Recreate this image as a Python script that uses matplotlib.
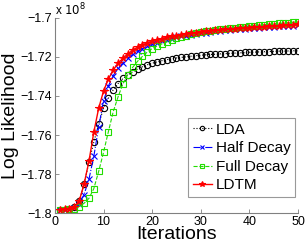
import matplotlib
matplotlib.use("Agg")
import matplotlib.pyplot as plt
from matplotlib.ticker import FuncFormatter

plt.rcParams['font.family'] = ['Liberation Sans', 'DejaVu Sans']

iterations = list(range(1, 51))

lda = [-1.7985, -1.7982, -1.7978, -1.7970, -1.7940, -1.7850, -1.7740, -1.7637, -1.7544, -1.7463,
       -1.7412, -1.7368, -1.7336, -1.7310, -1.7292, -1.7276, -1.7262, -1.7250, -1.7240, -1.7232,
       -1.7225, -1.7219, -1.7214, -1.7209, -1.7205, -1.7202, -1.7199, -1.7196, -1.7193, -1.7191,
       -1.7189, -1.7187, -1.7186, -1.7184, -1.7183, -1.7181, -1.7180, -1.7179, -1.7177, -1.7176,
       -1.7175, -1.7174, -1.7173, -1.7172, -1.7171, -1.7170, -1.7170, -1.7169, -1.7168, -1.7168]

half_decay = [-1.7986, -1.7983, -1.7980, -1.7973, -1.7952, -1.7905, -1.7827, -1.7710, -1.7560, -1.7425,
              -1.7349, -1.7295, -1.7258, -1.7229, -1.7205, -1.7186, -1.7170, -1.7157, -1.7146, -1.7136,
              -1.7127, -1.7119, -1.7112, -1.7106, -1.7100, -1.7095, -1.7090, -1.7086, -1.7082, -1.7078,
              -1.7075, -1.7072, -1.7069, -1.7066, -1.7064, -1.7061, -1.7059, -1.7057, -1.7055, -1.7053,
              -1.7051, -1.7049, -1.7048, -1.7046, -1.7045, -1.7043, -1.7042, -1.7040, -1.7039, -1.7037]

full_decay = [-1.7986, -1.7984, -1.7981, -1.7977, -1.7967, -1.7950, -1.7925, -1.7875, -1.7787, -1.7689,
              -1.7583, -1.7480, -1.7404, -1.7337, -1.7290, -1.7253, -1.7222, -1.7197, -1.7175, -1.7157,
              -1.7144, -1.7133, -1.7123, -1.7114, -1.7105, -1.7097, -1.7090, -1.7084, -1.7078, -1.7073,
              -1.7069, -1.7065, -1.7061, -1.7058, -1.7055, -1.7052, -1.7049, -1.7046, -1.7044, -1.7042,
              -1.7039, -1.7037, -1.7035, -1.7033, -1.7031, -1.7028, -1.7026, -1.7024, -1.7022, -1.7020]

ldtm = [-1.7985, -1.7981, -1.7977, -1.7968, -1.7938, -1.7852, -1.7735, -1.7586, -1.7463, -1.7375,
        -1.7313, -1.7267, -1.7232, -1.7207, -1.7185, -1.7166, -1.7151, -1.7139, -1.7129, -1.7120,
        -1.7112, -1.7106, -1.7100, -1.7095, -1.7090, -1.7086, -1.7082, -1.7078, -1.7075, -1.7072,
        -1.7069, -1.7066, -1.7064, -1.7062, -1.7059, -1.7057, -1.7055, -1.7053, -1.7051, -1.7049,
        -1.7047, -1.7046, -1.7044, -1.7043, -1.7041, -1.7040, -1.7038, -1.7037, -1.7035, -1.7033]

xticks = [0, 10, 20, 30, 40, 50]
yticks = [-1.8, -1.78, -1.76, -1.74, -1.72, -1.7]

fig = plt.figure(figsize=(3.05, 2.46), dpi=100)
ax = fig.add_axes([0.180, 0.134, 0.797, 0.793])

ax.plot(iterations, lda, linestyle=':', color='black', marker='o', markerfacecolor='none',
        markersize=4.5, markeredgewidth=0.8, linewidth=0.8, label='LDA')
ax.plot(iterations, half_decay, linestyle='-.', color='#0000ff', marker='x',
        markersize=4, markeredgewidth=0.8, linewidth=0.8, label='Half Decay')
ax.plot(iterations, full_decay, linestyle='--', color='#22dd00', marker='s', markerfacecolor='none',
        markersize=4, markeredgewidth=0.8, linewidth=0.8, label='Full Decay')
ax.plot(iterations, ldtm, linestyle='-', color='#ff0000', marker='*',
        markersize=5.5, markeredgewidth=0.8, linewidth=1.0, label='LDTM')

ax.set_xlim(0, 50)
ax.set_ylim(-1.8, -1.7)
ax.set_xticks(xticks)
ax.set_yticks(yticks)
ax.yaxis.set_major_formatter(FuncFormatter(lambda v, p: ('%g' % v).replace('-', '\u2212')))

for s in ['top', 'right']:
    ax.spines[s].set_visible(False)
for s in ['left', 'bottom']:
    ax.spines[s].set_color('#808080')
    ax.spines[s].set_linewidth(0.8)
ax.tick_params(direction='in', length=3, width=0.6, color='#808080', labelsize=9, pad=2)

ax.set_xlabel('Iterations', fontsize=14, labelpad=-1)
ax.set_ylabel('Log Likelihood', fontsize=14, labelpad=1)

ax.text(0.0, 1.0, r'x $10^{8}$', transform=ax.transAxes, fontsize=8.5, ha='left', va='bottom')

leg = ax.legend(loc='lower right', bbox_to_anchor=(0.988, 0.082), fontsize=11, frameon=True,
                fancybox=False, edgecolor='#808080', handlelength=1.25, handletextpad=0.25,
                borderpad=0.3, labelspacing=0.3, borderaxespad=0.0, markerscale=0.7)
leg.get_frame().set_linewidth(0.8)

fig.savefig('out.png', dpi=100)
